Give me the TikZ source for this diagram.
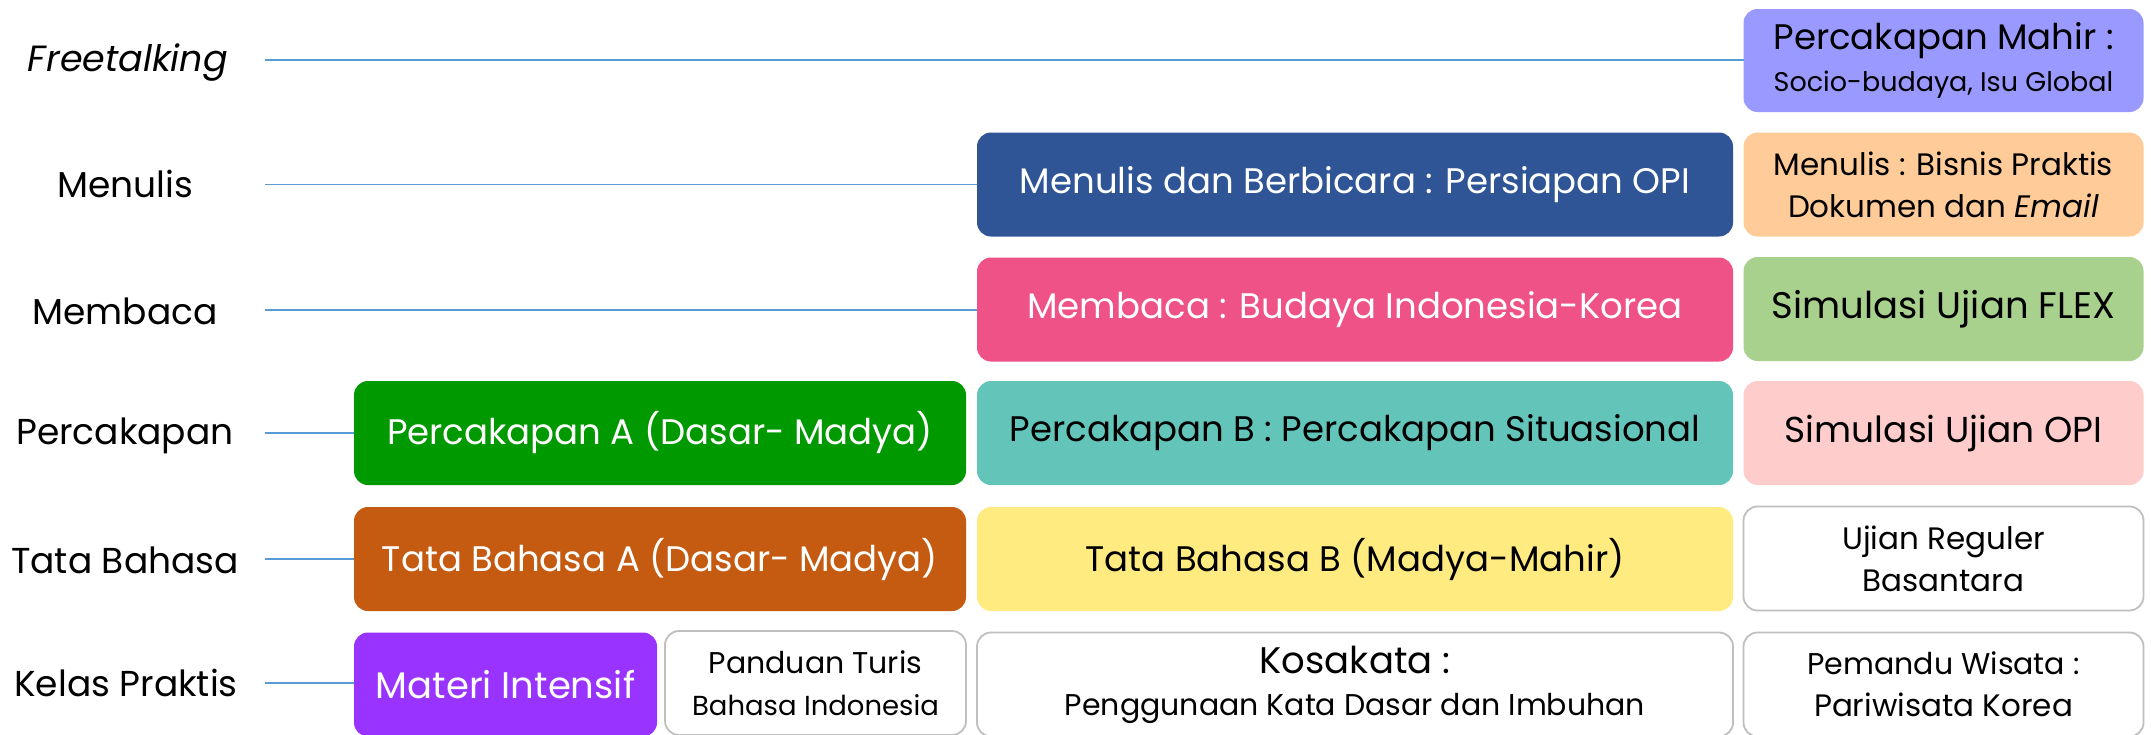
\documentclass[tikz,border=0pt]{standalone}
\usepackage{fontspec}
\setmainfont{Poppins}
\definecolor{cMahir}{HTML}{9999FF}
\definecolor{cMenB}{HTML}{2F5597}
\definecolor{cBisnis}{HTML}{FFCC99}
\definecolor{cBaca}{HTML}{EE5287}
\definecolor{cFlex}{HTML}{A9D18E}
\definecolor{cPercA}{HTML}{009900}
\definecolor{cPercB}{HTML}{63C5BA}
\definecolor{cOPI}{HTML}{FFCCCC}
\definecolor{cTataA}{HTML}{C55A11}
\definecolor{cTataB}{HTML}{FFEB80}
\definecolor{cMateri}{HTML}{9933FF}
\definecolor{boxgray}{HTML}{BFBFBF}
\definecolor{linkblue}{HTML}{5B9BD5}
\newcommand\fsz[1]{\fontsize{#1}{40}\selectfont}
\newcommand\fmain{\fontsize{35.5}{42}\selectfont}
\begin{document}
\begin{tikzpicture}[x=1pt,y=-1pt,
  box/.style={rounded corners=14pt, minimum height=104pt, inner sep=0pt, outer sep=0pt, align=center, font=\fmain},
  wbox/.style={box, fill=white, draw=boxgray, line width=1.8pt},
  conn/.style={draw=linkblue, line width=1.6pt},
  lbl/.style={font=\fsz{36}, anchor=center}]
\clip (0,0) rectangle (2151,734);
% column C
\node[box, fill=cMahir, minimum width=400pt, minimum height=103pt] (mahir) at (1943.5,60.5)
  {\fsz{35.5}Percakapan Mahir :\\\fsz{27}Socio-budaya, Isu Global};
\node[box, fill=cBisnis, minimum width=400pt] (bisnis) at (1943.5,184.5)
  {\fsz{31}Menulis : Bisnis Praktis\\\fsz{31}Dokumen dan \textit{Email}};
\node[box, fill=cFlex, minimum width=400pt, font=\fsz{37}] (flex) at (1943.5,309) {Simulasi Ujian FLEX};
\node[box, fill=cOPI, minimum width=400pt, font=\fsz{36}] (opi) at (1943.5,433) {Simulasi Ujian OPI};
\node[wbox, minimum width=400pt] (ujian) at (1943.5,558.5)
  {\fsz{31}Ujian Reguler\\\fsz{31}Basantara};
\node[wbox, minimum width=400pt] (pemandu) at (1943.5,684.5)
  {\fsz{30}Pemandu Wisata :\\\fsz{31}Pariwisata Korea};
% column B
\node[box, fill=cMenB, text=white, minimum width=756pt] (menb) at (1355,184.5)
  {Menulis dan Berbicara : Persiapan OPI};
\node[box, fill=cBaca, text=white, minimum width=756pt] (baca) at (1355,309.5)
  {Membaca : Budaya Indonesia-Korea};
\node[box, fill=cPercB, minimum width=756pt] (percb) at (1355,433)
  {Percakapan B : Percakapan Situasional};
\node[box, fill=cTataB, minimum width=756pt] (tatab) at (1355,559)
  {Tata Bahasa B (Madya-Mahir)};
\node[wbox, minimum width=756pt] (kosa) at (1355,684.5)
  {\fsz{37}Kosakata :\\\fsz{30}Penggunaan Kata Dasar dan Imbuhan};
% column A
\node[box, fill=cPercA, text=white, minimum width=612pt] (perca) at (660,433)
  {Percakapan A (Dasar- Madya)};
\node[box, fill=cTataA, text=white, minimum width=612pt] (tataa) at (660,559)
  {Tata Bahasa A (Dasar- Madya)};
\node[box, fill=cMateri, text=white, minimum width=303pt, font=\fsz{37}] (materi) at (505.5,684.5)
  {Materi Intensif};
\node[wbox, minimum width=301pt] (panduan) at (815.5,683)
  {\fsz{30}Panduan Turis\\\fsz{27.5}Bahasa Indonesia};
% labels
\node[lbl, font=\fsz{36.5}] (l1) at (128,63) {\itshape Freetalking};
\node[lbl] (l2) at (125,184) {Menulis};
\node[lbl] (l3) at (125,311) {Membaca};
\node[lbl] (l4) at (125,436) {Percakapan};
\node[lbl] (l5) at (125,560) {Tata Bahasa};
\node[lbl] (l6) at (126,683) {Kelas Praktis};
% connector starts
\coordinate (s1) at (265,60);
\coordinate (s2) at (265,184.5);
\coordinate (s3) at (265,310);
\coordinate (s4) at (265,433);
\coordinate (s5) at (265,559);
\coordinate (s6) at (265,683);
\draw[conn] (s1) -- (s1 -| mahir.west);
\draw[conn] (s2) -- (s2 -| menb.west);
\draw[conn] (s3) -- (s3 -| baca.west);
\draw[conn] (s4) -- (s4 -| perca.west);
\draw[conn] (s5) -- (s5 -| tataa.west);
\draw[conn] (s6) -- (s6 -| materi.west);
\end{tikzpicture}
\end{document}
